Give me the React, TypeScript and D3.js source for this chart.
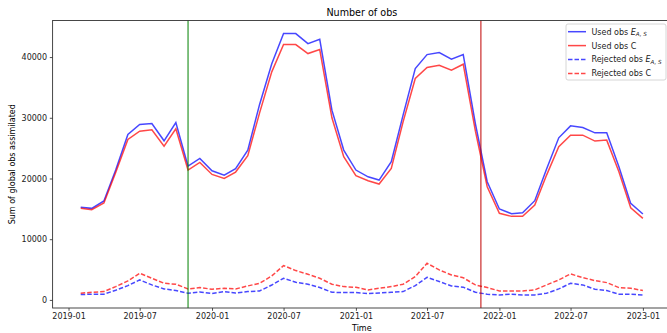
import React, { useEffect, useRef } from 'react';
import * as d3 from 'd3';

// monthly sums, 2019-02 .. 2023-01
const months = [
  '2019-02', '2019-03', '2019-04', '2019-05', '2019-06', '2019-07', '2019-08', '2019-09', '2019-10', '2019-11', '2019-12',
  '2020-01', '2020-02', '2020-03', '2020-04', '2020-05', '2020-06', '2020-07', '2020-08', '2020-09', '2020-10', '2020-11', '2020-12',
  '2021-01', '2021-02', '2021-03', '2021-04', '2021-05', '2021-06', '2021-07', '2021-08', '2021-09', '2021-10', '2021-11', '2021-12',
  '2022-01', '2022-02', '2022-03', '2022-04', '2022-05', '2022-06', '2022-07', '2022-08', '2022-09', '2022-10', '2022-11', '2022-12',
  '2023-01',
];

const usedE = [
  15250, 15080, 16290, 21390, 27250, 28890, 29060, 26210, 29220, 22040, 23300,
  21270, 20560, 21600, 24680, 32200, 38900, 43870, 43870, 42220, 42930, 31260, 24680,
  21390, 20280, 19740, 22750, 30430, 38110, 40410, 40740, 39640, 40410, 29000, 19460,
  14970, 14200, 14360, 16340, 21550, 26700, 28670, 28400, 27520, 27520, 21930, 15900,
  14150,
];

const usedC = [
  15080, 14860, 15960, 21000, 26430, 27800, 28020, 25330, 28180, 21390, 22650,
  20670, 20010, 21060, 23740, 30800, 37560, 42060, 42060, 40580, 41240, 29990, 23580,
  20450, 19630, 19080, 21660, 29330, 36470, 38270, 38660, 37830, 38820, 27800, 18640,
  14260, 13760, 13760, 15630, 20560, 25220, 27140, 27140, 26160, 26320, 21110, 15180,
  13440,
];

const rejectedE = [
  880, 940, 940, 1590, 2360, 3290, 2470, 1810, 1540, 1100, 1320,
  1040, 1370, 1150, 1370, 1480, 2450, 3570, 2910, 2580, 2030, 1260, 1210,
  1210, 1040, 1150, 1260, 1370, 2360, 3730, 3020, 2300, 2100, 1260, 940,
  820, 940, 820, 820, 1100, 1810, 2740, 2470, 1760, 1540, 940, 940,
  820,
];

const rejectedC = [
  1100, 1260, 1370, 2190, 3130, 4390, 3570, 2740, 2580, 1810, 2030,
  1760, 1920, 1810, 2300, 2740, 3950, 5650, 4830, 4220, 3570, 2580, 2190,
  2080, 1650, 1920, 2190, 2580, 3840, 6030, 4940, 4110, 3650, 2470, 2030,
  1480, 1480, 1480, 1650, 2470, 3290, 4280, 3670, 3180, 2850, 2030, 1920,
  1540,
];

const yTicks = [0, 10000, 20000, 30000, 40000];
const xTicks = ['2019-01', '2019-07', '2020-01', '2020-07', '2021-01', '2021-07', '2022-01', '2022-07', '2023-01'];
const markerDates = ['2019-11-01', '2021-11-15'];

const FONT = 'DejaVu Sans, sans-serif';

const App = () => {
  const svgRef = useRef<SVGSVGElement>(null);

  useEffect(() => {
    const svg = d3.select(svgRef.current);
    svg.selectAll('*').remove();

    const width = 667;
    const height = 333;
    const left = 52.6, right = 671, top = 20.5, bottom = 308;

    const parseM = d3.timeParse('%Y-%m');
    const parseD = d3.timeParse('%Y-%m-%d');
    const dates = months.map(m => parseM(m) as Date);

    const t0 = +dates[0], t1 = +dates[dates.length - 1];
    const tp = (t1 - t0) * 0.05;
    const x = d3.scaleTime()
      .domain([new Date(t0 - tp), new Date(t1 + tp)])
      .range([left, right]);

    const all = [...usedE, ...usedC, ...rejectedE, ...rejectedC];
    const lo = d3.min(all) as number, hi = d3.max(all) as number;
    const yp = (hi - lo) * 0.05;
    const y = d3.scaleLinear()
      .domain([lo - yp, hi + yp])
      .range([bottom, top]);

    svg.attr('width', width).attr('height', height);

    // axes
    const gx = svg.append('g')
      .attr('transform', `translate(0,${bottom})`)
      .call(d3.axisBottom(x)
        .tickValues(xTicks.map(t => parseM(t) as Date))
        .tickFormat(d3.timeFormat('%Y-%m') as any)
        .tickSize(2.8)
        .tickPadding(2.8));
    gx.select('.domain').remove();

    const gy = svg.append('g')
      .attr('transform', `translate(${left},0)`)
      .call(d3.axisLeft(y)
        .tickValues(yTicks)
        .tickFormat(d3.format('d'))
        .tickSize(2.8)
        .tickPadding(2.8));
    gy.select('.domain').remove();

    svg.selectAll('.tick text')
      .attr('font-family', FONT)
      .attr('font-size', 8)
      .attr('fill', '#222');
    svg.selectAll('.tick line').attr('stroke', '#222').attr('stroke-width', 0.8);

    // series
    const series = [
      { values: usedE, color: 'blue', dash: null },
      { values: usedC, color: 'red', dash: null },
      { values: rejectedE, color: 'blue', dash: '4.5,2' },
      { values: rejectedC, color: 'red', dash: '4.5,2' },
    ];

    const line = d3.line<number>()
      .x((_, i) => x(dates[i]))
      .y(d => y(d));

    series.forEach(s => {
      svg.append('path')
        .datum(s.values)
        .attr('d', line)
        .attr('fill', 'none')
        .attr('stroke', s.color)
        .attr('stroke-opacity', 0.72)
        .attr('stroke-width', 1.5)
        .attr('stroke-dasharray', s.dash);
    });

    // vertical markers
    const markerColors = ['green', '#c00000'];
    markerDates.forEach((d, i) => {
      const xv = x(parseD(d) as Date);
      svg.append('line')
        .attr('x1', xv).attr('x2', xv)
        .attr('y1', top).attr('y2', bottom)
        .attr('stroke', markerColors[i])
        .attr('stroke-width', 1);
    });

    // frame
    svg.append('rect')
      .attr('x', left).attr('y', top)
      .attr('width', right - left).attr('height', bottom - top)
      .attr('fill', 'none')
      .attr('stroke', '#333')
      .attr('stroke-width', 0.9);

    // title and labels
    svg.append('text')
      .attr('x', (left + right) / 2).attr('y', 15.5)
      .attr('text-anchor', 'middle')
      .attr('font-family', FONT).attr('font-size', 9.6)
      .text('Number of obs');

    svg.append('text')
      .attr('x', (left + right) / 2).attr('y', 330.5)
      .attr('text-anchor', 'middle')
      .attr('font-family', FONT).attr('font-size', 8)
      .text('Time');

    svg.append('text')
      .attr('transform', `translate(14.5,${(top + bottom) / 2}) rotate(-90)`)
      .attr('text-anchor', 'middle')
      .attr('font-family', FONT).attr('font-size', 8)
      .text('Sum of global obs assimilated');

    // legend
    const lg = svg.append('g').attr('transform', `translate(${right - 105},24)`);
    lg.append('rect')
      .attr('width', 100).attr('height', 56)
      .attr('rx', 2)
      .attr('fill', 'white').attr('fill-opacity', 0.8)
      .attr('stroke', '#ccc').attr('stroke-width', 0.8);

    const labels = [
      { text: 'Used obs ', math: true },
      { text: 'Used obs C', math: false },
      { text: 'Rejected obs ', math: true },
      { text: 'Rejected obs C', math: false },
    ];
    labels.forEach((l, i) => {
      const s = series[i];
      const ly = 7.7 + i * 13.9;
      lg.append('line')
        .attr('x1', 2).attr('x2', 20)
        .attr('y1', ly).attr('y2', ly)
        .attr('stroke', s.color)
        .attr('stroke-opacity', 0.72)
        .attr('stroke-width', 1.5)
        .attr('stroke-dasharray', s.dash);
      const t = lg.append('text')
        .attr('x', 25.5).attr('y', ly + 2.9)
        .attr('font-family', FONT).attr('font-size', 8)
        .attr('fill', '#222');
      t.append('tspan').text(l.text);
      if (l.math) {
        t.append('tspan').attr('font-style', 'italic').text('E');
        t.append('tspan')
          .attr('font-size', 5.6)
          .attr('font-style', 'italic')
          .attr('dy', 1.6)
          .text('A, S');
      }
    });
  }, []);

  return (
    <svg
      ref={svgRef}
      style={{ position: 'absolute', left: 0, top: 0, background: 'white' }}
    ></svg>
  );
};

export default App;
